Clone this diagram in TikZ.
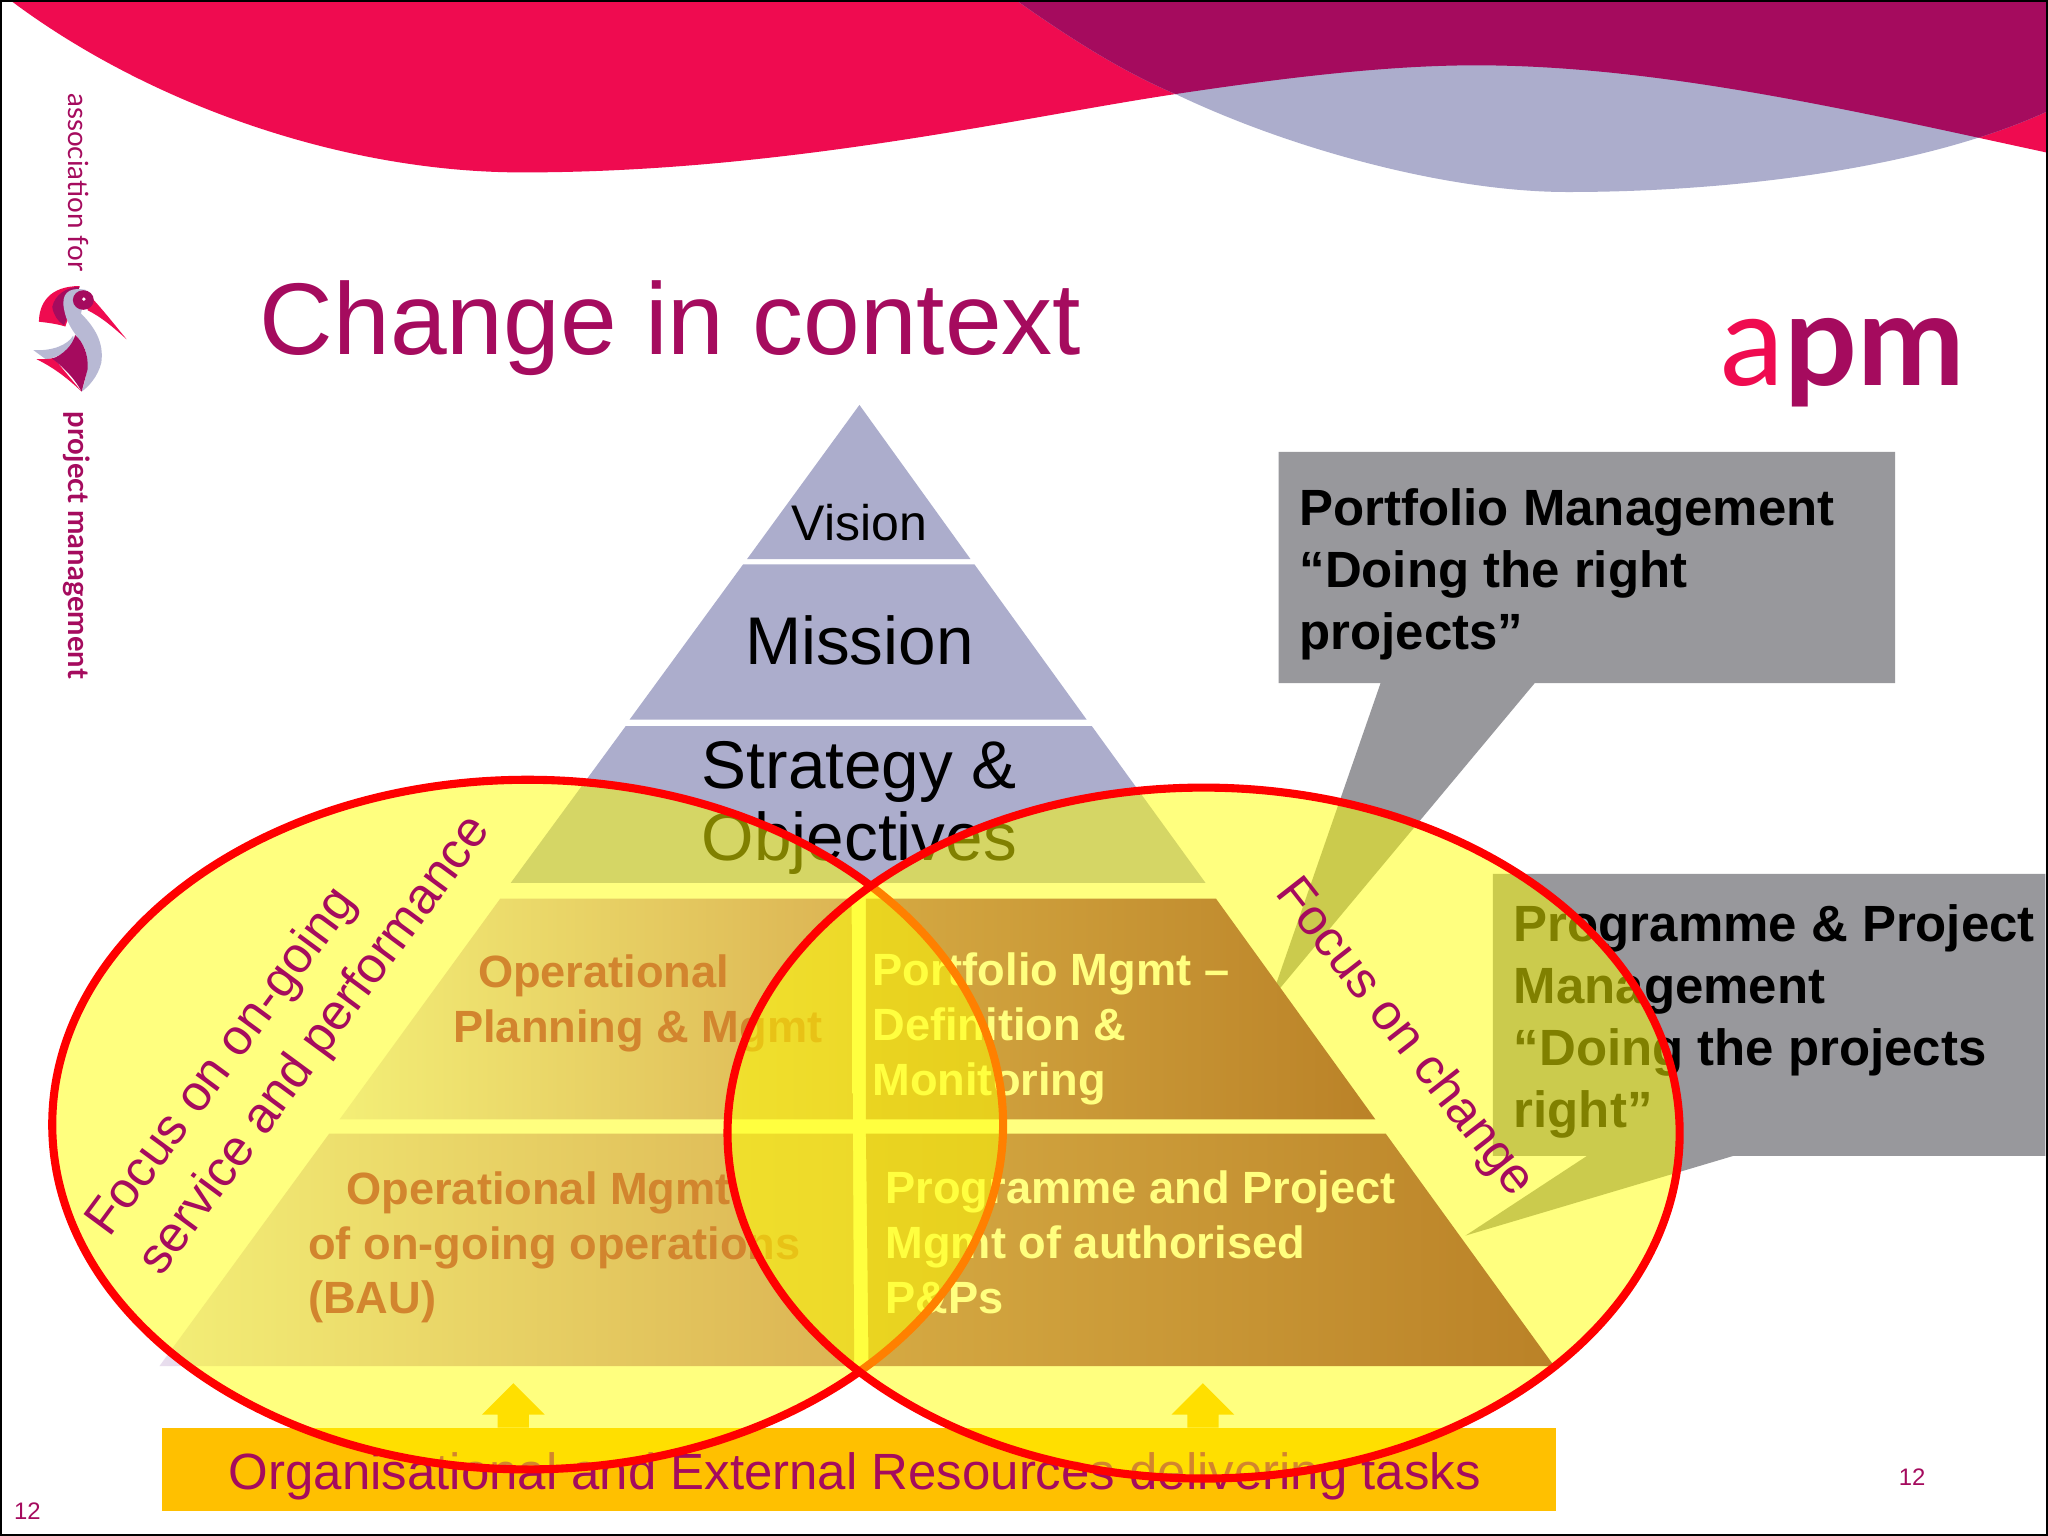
\documentclass[tikz,border=0pt]{standalone}
\usepackage{fontspec}
\setmainfont{Liberation Sans}
\newfontfamily\logofont{Lato}
\definecolor{apmred}{HTML}{EF0B50}
\definecolor{apmpurple}{HTML}{A50B5E}
\definecolor{apmlilac}{HTML}{ACADCC}
\definecolor{apmgray}{HTML}{98989C}
\definecolor{apmgold}{HTML}{FFC000}
\definecolor{ringyellow}{RGB}{255,255,0}
\definecolor{ringred}{RGB}{255,0,0}
\definecolor{shadeleft}{RGB}{232,222,238}
\definecolor{shademid}{RGB}{185,105,168}
\definecolor{shadecore}{RGB}{172,85,135}
\definecolor{shadeend}{RGB}{118,5,80}
\newcommand{\redwave}{(5,-2) .. controls (110,78) and (260,132) .. (400,132) .. controls (600,132) and (780,90) .. (900,72) .. controls (980,60) and (1060,50) .. (1130,50) .. controls (1270,50) and (1420,85) .. (1568,117) -- (1568,-2) -- cycle}
\newcommand{\lilacwave}{(775,-2) .. controls (820,30) and (860,55) .. (900,72) .. controls (990,115) and (1110,147) .. (1200,147) .. controls (1330,147) and (1475,128) .. (1568,85) -- (1568,-2) -- cycle}
\begin{document}
\begin{tikzpicture}[x=0.1mm, y=-0.1mm, line join=miter,
	txt/.style={inner sep=0pt, outer sep=0pt, align=left, anchor=west},
	lilactxt/.style={inner sep=0pt, outer sep=0pt, align=center, text=black},
	boldtxt/.style={txt, font=\fontsize{9.85}{11.95}\selectfont\bfseries},
	calltxt/.style={txt, font=\fontsize{11.1}{13.5}\selectfont\bfseries, text=black},
	focustxt/.style={txt, anchor=center, text=apmpurple, font=\fontsize{11}{14.2}\selectfont},
	pagetxt/.style={inner sep=0pt, text=apmpurple, font=\fontsize{5.2}{6}\selectfont},
	band/.style={fill=apmlilac},
	ring/.style={draw=ringred, line width=0.62mm, fill=ringyellow, fill opacity=0.5, draw opacity=1}]
	\useasboundingbox (0,0) rectangle (1568,1176);
	\fill[white] (0,0) rectangle (1568,1176);

	% waves at the top
	\fill[apmred] \redwave;
	\fill[apmlilac] \lilacwave;
	\begin{scope}
		\clip \redwave;
		\fill[apmpurple] \lilacwave;
	\end{scope}

	% bird and side text
	\fill[apmred] (29.8,246.3) .. controls (30,232) and (38,219) .. (61,219) -- (50,250) .. controls (44,248) and (36,247) .. (29.8,246.3) -- cycle;
	\fill[apmpurple] (40,235) .. controls (42,226) and (50,220) .. (61,219.5) -- (49,249) .. controls (44,246) and (41,241) .. (40,235) -- cycle;
	\fill[apmlilac!85!white] (48.5,233) .. controls (48,222) and (56,220) .. (66,222) -- (62,240) .. controls (72,250) and (80,262) .. (77.5,278) .. controls (75,288) and (68,296) .. (62.5,299.8) .. controls (68,285) and (68,270) .. (63,263) .. controls (58,256) and (50,248) .. (48.5,233) -- cycle;
	\fill[apmlilac!85!white] (25.5,268) .. controls (40,269) and (52,264) .. (56,257) -- (57,262) .. controls (52,270) and (40,275) .. (35,275) -- cycle;
	\fill[apmred] (28,275) .. controls (34,275) and (38,275) .. (41,274) -- (62.5,299.8) .. controls (50,288) and (40,281) .. (28,275) -- cycle;
	\fill[apmpurple] (40,274.5) .. controls (48,272) and (56,264) .. (57.5,256.5) .. controls (64,262) and (68,272) .. (67,283) -- (62.5,299.8) .. controls (56,288) and (48,281) .. (40,274.5) -- cycle;
	\fill[apmred] (67,224.6) .. controls (78,236) and (88,249) .. (97,259.8) .. controls (86,250) and (78,243) .. (67,237.5) -- cycle;
	\fill[apmpurple] (63.8,229.7) ellipse [x radius=8, y radius=7.5];
	\fill[white] (64.2,229) circle [radius=1.5];
	\node[txt, anchor=center, rotate=-90, text=apmpurple, font=\logofont\fontsize{6.05}{8}\selectfont] (assoc) at (60,139.5) {association for};
	\node[txt, anchor=center, rotate=-90, text=apmpurple, font=\logofont\fontsize{6.35}{8}\selectfont\bfseries] (pmtext) at (59,417.5) {project management};

	% title and logo
	\node[txt, text=apmpurple, font=\fontsize{22.2}{26}\selectfont] (title) at (199,251) {Change in context};
	\node[txt, anchor=base west, text=apmred, font=\logofont\fontsize{28}{32}\selectfont] (logoa) at (1317,295) {a};
	\node[txt, anchor=base west, text=apmpurple, font=\logofont\fontsize{28}{32}\selectfont\bfseries] (logopm) at (logoa.base east) {pm};

	% callouts
	\fill[apmgray] (979,346) -- (1451,346) -- (1451,523) -- (1175,523) -- (973,765) -- (1057,523) -- (979,523) -- cycle;
	\fill[apmgray] (1143,669) -- (1566,669) -- (1566,885) -- (1327,885) -- (1122,946) -- (1215,885) -- (1143,885) -- cycle;
	\node[calltxt] (portfolio) at (995,440) {Portfolio Management\\“Doing the right\\projects”};
	\node[calltxt] (programme) at (1159,782) {Programme \& Project\\Management\\“Doing the projects\\right”};

	% pyramid
	\fill[band] (658,310) -- (743,428) -- (572,428) -- cycle;
	\fill[band] (569,432) -- (746,432) -- (832,551) -- (482,551) -- cycle;
	\fill[band] (479,556) -- (836,556) -- (923,676) -- (391,676) -- cycle;
	\shade[left color=shadeleft, right color=shademid] (383,688) -- (652,688) -- (653,857) -- (260,857) -- cycle;
	\shade[left color=shadeleft, right color=shademid] (252,868) -- (653,868) -- (654,1046) -- (122,1046) -- cycle;
	\shade[left color=shadecore, right color=shadeend] (663,688) -- (931,688) -- (1053,857) -- (663,857) -- cycle;
	\shade[left color=shadecore, right color=shadeend] (663,868) -- (1061,868) -- (1190,1046) -- (665,1046) -- cycle;
	\node[lilactxt, font=\fontsize{10.9}{13}\selectfont] (vision) at (658,400) {Vision};
	\node[lilactxt, font=\fontsize{14.7}{17}\selectfont] (mission) at (658,490) {Mission};
	\node[lilactxt, font=\fontsize{14.7}{15.6}\selectfont] (strategy) at (658,618.5) {Strategy \&\\Objectives};
	\node[boldtxt, text=apmpurple] (planning) at (347,768) {\hspace*{5.4pt}Operational\\Planning \& Mgmt};
	\node[boldtxt, text=apmpurple] (bau) at (236,955) {\hspace*{8.3pt}Operational Mgmt\\of on-going operations\\(BAU)};
	\node[boldtxt, text=white] (monitor) at (668,788) {Portfolio Mgmt --\\Definition \&\\Monitoring};
	\node[boldtxt, text=white] (delivery) at (678,951) {Programme and Project\\Mgmt of authorised\\P\&Ps};

	% resources bar and arrows
	\fill[apmgold] (124,1093) rectangle (1191,1157);
	\foreach \ax in {393, 921} {
		\fill[apmgold] (\ax,1059) -- (\ax+24,1083) -- (\ax+12,1083) -- (\ax+12,1093) -- (\ax-12,1093) -- (\ax-12,1083) -- (\ax-24,1083) -- cycle;
	}
	\node[txt, anchor=center, text=apmpurple, font=\fontsize{11.1}{13}\selectfont] (resources) at (654.5,1130) {Organisational and External Resources delivering tasks};

	% focus ellipses
	\draw[ring] (404,861) ellipse [x radius=364, y radius=264];
	\draw[ring] (921.5,867.5) ellipse [x radius=364.5, y radius=264.5];
	\node[focustxt, rotate=53.6] (ongoing) at (222,786) {Focus on on-going\\service and performance};
	\node[focustxt, rotate=-52] (change) at (1075,795) {Focus on change};

	% page numbers and frame
	\node[pagetxt] (pageleft) at (21,1157) {12};
	\node[pagetxt] (pageright) at (1464,1131) {12};
	\draw[black, line width=0.3mm] (0,0) rectangle (1568,1176);
\end{tikzpicture}
\end{document}
